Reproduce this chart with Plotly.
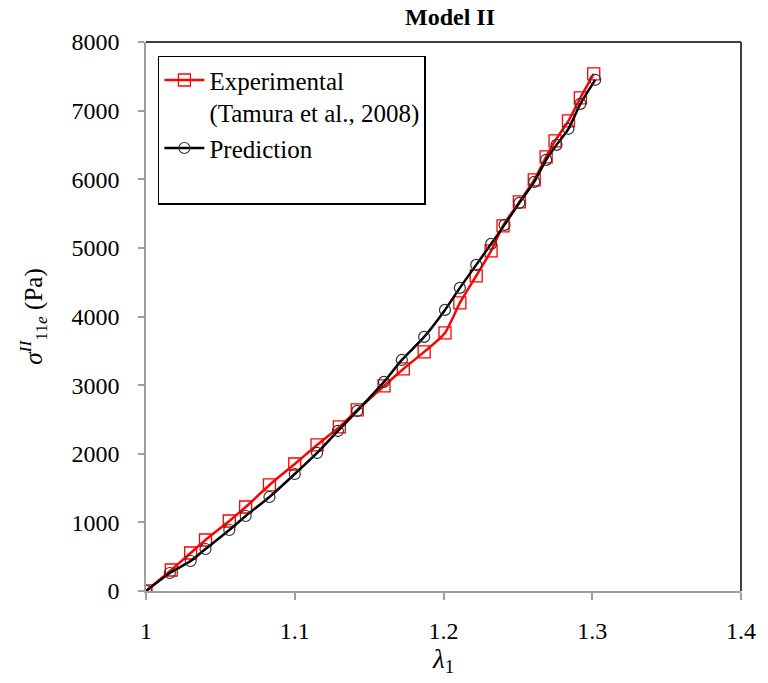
import plotly.graph_objects as go

# Stretch ratio lambda_1 and stress values (Pa)
lam_exp = [1.0, 1.017, 1.030, 1.040, 1.056, 1.067, 1.083, 1.100, 1.115, 1.130,
           1.142, 1.160, 1.173, 1.187, 1.201, 1.211, 1.222, 1.232, 1.240, 1.251,
           1.261, 1.269, 1.275, 1.284, 1.292, 1.301]
sig_exp = [0, 306, 554, 743, 1020, 1224, 1545, 1851, 2128, 2391,
           2638, 2988, 3236, 3484, 3761, 4198, 4592, 4956, 5321, 5671,
           5991, 6327, 6560, 6851, 7187, 7536]

lam_pred = [1.0, 1.016, 1.030, 1.040, 1.056, 1.067, 1.083, 1.100, 1.115, 1.129,
            1.142, 1.160, 1.172, 1.187, 1.201, 1.211, 1.222, 1.232, 1.241, 1.251,
            1.261, 1.269, 1.276, 1.284, 1.292, 1.302]
sig_pred = [0, 262, 437, 612, 889, 1093, 1370, 1705, 2012, 2332,
            2624, 3047, 3367, 3703, 4096, 4417, 4752, 5058, 5335, 5656,
            5962, 6283, 6501, 6735, 7099, 7449]

x_ticks = [1, 1.1, 1.2, 1.3, 1.4]
x_tick_labels = ["1", "1.1", "1.2", "1.3", "1.4"]
y_ticks = [0, 1000, 2000, 3000, 4000, 5000, 6000, 7000, 8000]

FONT = "Liberation Serif, Times New Roman, serif"

fig = go.Figure()
fig.add_trace(go.Scatter(
    x=lam_exp, y=sig_exp, mode="lines+markers",
    name="Experimental<br>(Tamura et al., 2008)",
    line=dict(color="#ff0000", width=2.5, shape="spline", smoothing=0.6),
    marker=dict(symbol="square-open", size=12, color="#ff0000",
                line=dict(width=1.3, color="#ff0000")),
))
fig.add_trace(go.Scatter(
    x=lam_pred, y=sig_pred, mode="lines+markers",
    name="Prediction<br> ",
    line=dict(color="#000000", width=2.5, shape="spline", smoothing=0.6),
    marker=dict(symbol="circle-open", size=11, color="#333333",
                line=dict(width=1.2, color="#333333")),
))

fig.update_layout(
    width=768, height=683,
    margin=dict(l=146, r=27, t=42, b=92),
    paper_bgcolor="white", plot_bgcolor="white",
    font=dict(family=FONT, size=24, color="#000000"),
    title=dict(text="<b>Model II</b>", x=450 / 768, xanchor="center",
               y=1 - 17 / 683, yanchor="middle",
               font=dict(family=FONT, size=24, color="#000000")),
    showlegend=True,
    legend=dict(x=0.02, y=0.975, xanchor="left", yanchor="top",
                bgcolor="white", bordercolor="#000000", borderwidth=1.5,
                font=dict(family=FONT, size=25, color="#000000"),
                valign="top", tracegroupgap=0, itemwidth=40),
    xaxis=dict(
        range=[1, 1.4], tickvals=x_ticks, ticktext=x_tick_labels,
        ticks="outside", ticklen=7, tickcolor="#a0a0a0", tickwidth=1.5,
        ticklabelstandoff=10,
        showline=True, linecolor="#a0a0a0", linewidth=1.5, mirror=False,
        showgrid=False, zeroline=False,
        tickfont=dict(family=FONT, size=24, color="#000000"),
        title=dict(text="<i>λ</i><sub>1</sub>", standoff=4,
                   font=dict(family=FONT, size=27, color="#000000")),
    ),
    yaxis=dict(
        range=[0, 8000], tickvals=y_ticks,
        ticks="outside", ticklen=6, tickcolor="#a0a0a0", tickwidth=1.5,
        ticklabelstandoff=14,
        showline=True, linecolor="#a0a0a0", linewidth=1.5,
        showgrid=False, zeroline=False,
        tickfont=dict(family=FONT, size=24, color="#000000"),
        title=dict(text="<i>σ</i><sup><i>II</i></sup><sub>11<i>e</i></sub> (Pa)",
                   standoff=22,
                   font=dict(family=FONT, size=25, color="#000000")),
    ),
    shapes=[
        # darker top and right frame edges of the plot area
        dict(type="line", xref="paper", yref="paper", x0=0, x1=1, y0=1, y1=1,
             line=dict(color="#404040", width=2)),
        dict(type="line", xref="paper", yref="paper", x0=1, x1=1, y0=0, y1=1,
             line=dict(color="#404040", width=2)),
    ],
)

fig.write_html("out.html")
